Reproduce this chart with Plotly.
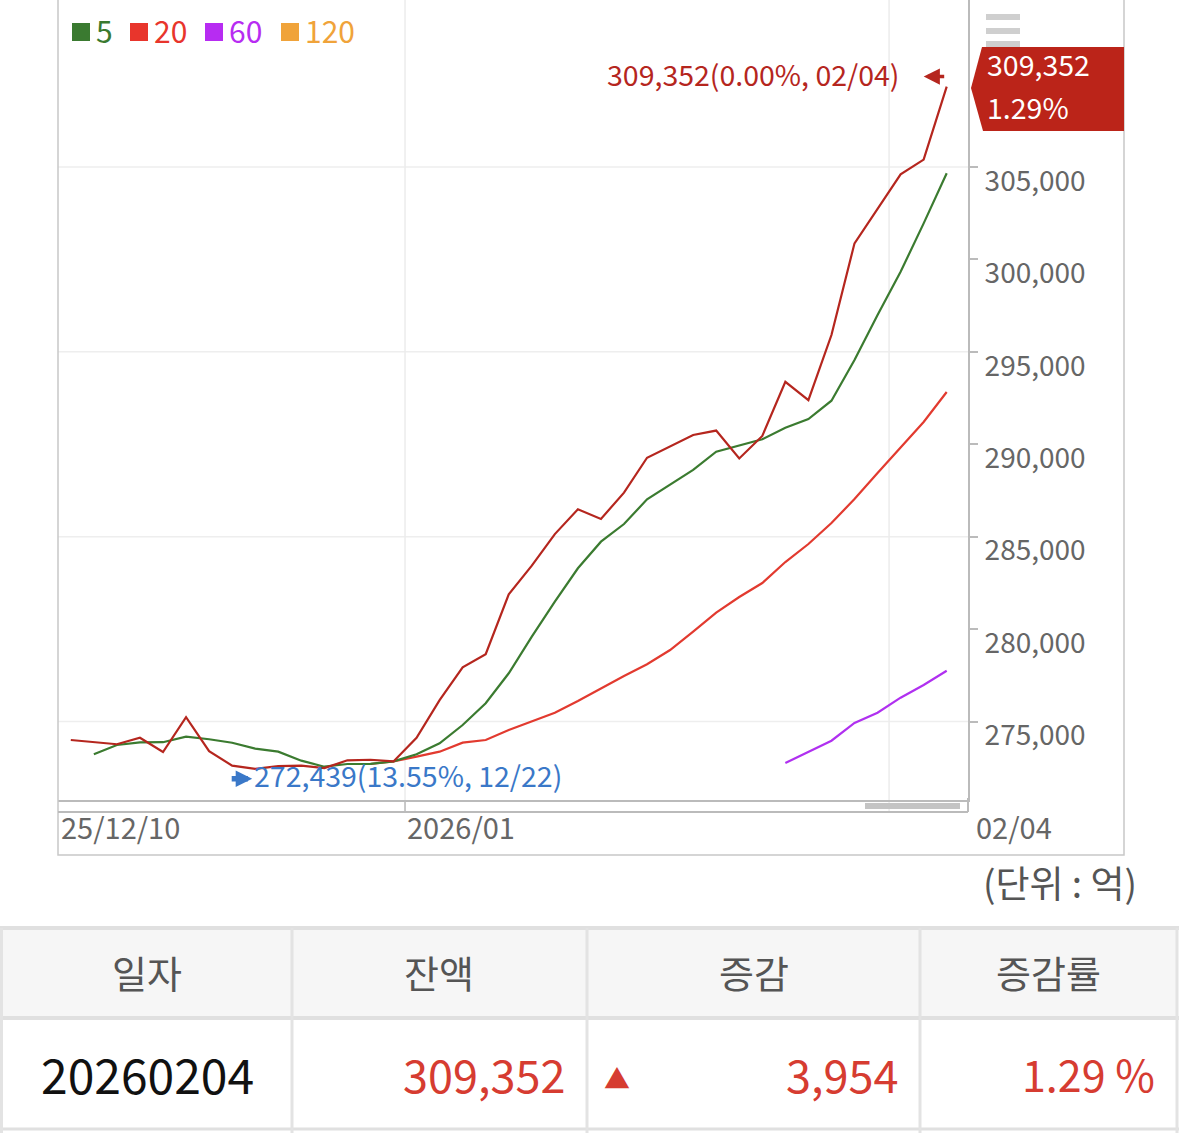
import plotly.graph_objects as go

W, H = 1179, 1133
FONT = "Noto Sans CJK KR"

# trading days shown on the chart
dates = [
    "2025-12-10", "2025-12-11", "2025-12-12", "2025-12-15", "2025-12-16",
    "2025-12-17", "2025-12-18", "2025-12-19", "2025-12-22", "2025-12-23",
    "2025-12-24", "2025-12-26", "2025-12-29", "2025-12-30", "2025-12-31",
    "2026-01-02", "2026-01-05", "2026-01-06", "2026-01-07", "2026-01-08",
    "2026-01-09", "2026-01-12", "2026-01-13", "2026-01-14", "2026-01-15",
    "2026-01-16", "2026-01-19", "2026-01-20", "2026-01-21", "2026-01-22",
    "2026-01-23", "2026-01-26", "2026-01-27", "2026-01-28", "2026-01-29",
    "2026-01-30", "2026-02-02", "2026-02-03", "2026-02-04",
]

# balance (unit: 억)
balance = [
    274000, 273875, 273770, 274120, 273350, 275230, 273400, 272610, 272439, 272590,
    272610, 272480, 272900, 272930, 272840, 274120, 276160, 277930, 278640, 281880,
    283430, 285140, 286480, 285960, 287380, 289270, 289900, 290500, 290740, 289230,
    290450, 293380, 292390, 295910, 300870, 302710, 304600, 305398, 309352,
]

ma5 = [None] + [
    273230, 273730, 273875, 273880, 274180, 274040, 273850, 273530, 273370,
    272880, 272555, 272700, 272710, 272840, 273230, 273820, 274810, 275985, 277610,
    279590, 281480, 283290, 284730, 285685, 287020, 287830, 288610, 289600, 289930,
    290270, 290895, 291365, 292355, 294560, 296990, 299330, 301950, 304660,
]

ma20 = [None] * 13 + [
    272700, 272836, 273096, 273366, 273853, 274000, 274540, 274990, 275476,
    276110, 276796, 277462, 278095, 278868, 279858, 280886, 281735, 282493, 283629,
    284603, 285739, 287037, 288444, 289850, 291203, 292826,
]

ma60 = [None] * 31 + [
    272755, 273366, 273961, 274919, 275476, 276288, 276975, 277748,
]

legend_labels = ["5", "20", "60", "120"]
legend_colors = ["#3a7a30", "#e8352c", "#b72cf2", "#f0a33a"]

y_ticks = [275000, 280000, 285000, 290000, 295000, 300000, 305000]
grid_vals = [275000, 285000, 295000, 305000]
month_breaks = [14.5, 35.5]

table_header = ["일자", "잔액", "증감", "증감률"]

MAIN = "#b5261e"
C5, C20, C60 = "#3b7b30", "#e23a2f", "#b030f0"
BLUE = "#3a78c8"
TXT = "#666666"
UP = "#d63c31"


def px(x):
    return x / W


def py(y):
    return 1 - y / H


# derived numbers
last = balance[-1]
prev = balance[-2]
change = last - prev
pct = change / prev * 100
low = min(balance)
i_low = balance.index(low)
high = max(balance)
i_high = balance.index(high)
from_low = (last - low) / low * 100
from_high = (last - high) / high * 100


def md(d):
    return d[5:7] + "/" + d[8:10]


# y scale: 305,000 at px 167, 275,000 at px 721.5, plot from px 0 to 800
k = (721.5 - 167) / 30000
y_top = 305000 + 167 / k
y_bot = 275000 - (800 - 721.5) / k
step = 23.05
x_lo = (58 - 70.8) / step
x_hi = (968 - 70.8) / step

fig = go.Figure()
fig.add_trace(go.Scatter(x=dates, y=ma60, mode="lines", line=dict(color=C60, width=2.2)))
fig.add_trace(go.Scatter(x=dates, y=ma20, mode="lines", line=dict(color=C20, width=2.2)))
fig.add_trace(go.Scatter(x=dates, y=ma5, mode="lines", line=dict(color=C5, width=2.2)))
fig.add_trace(go.Scatter(x=dates, y=balance, mode="lines", line=dict(color=MAIN, width=2.2)))

shapes = []
ann = []

# horizontal grid lines
for g in grid_vals:
    shapes.append(dict(type="line", xref="paper", yref="y", x0=px(58), x1=px(968), y0=g, y1=g,
                       line=dict(color="#eeeeee", width=1.5), layer="below"))
# month boundaries
for m in month_breaks:
    shapes.append(dict(type="line", xref="x", yref="paper", x0=m, x1=m, y0=py(812), y1=1,
                       line=dict(color="#ececec", width=1.5), layer="below"))
shapes.append(dict(type="line", xref="x", yref="paper", x0=month_breaks[0], x1=month_breaks[0],
                   y0=py(812), y1=py(800), line=dict(color="#bbbbbb", width=1.5)))

# outer frame, lower axis line, scroll bar, axis extension
shapes.append(dict(type="rect", xref="paper", yref="paper", x0=px(58), x1=px(1124), y0=py(855), y1=py(-5),
                   line=dict(color="#c8c8c8", width=1.5)))
shapes.append(dict(type="line", xref="paper", yref="paper", x0=px(58), x1=px(968), y0=py(812), y1=py(812),
                   line=dict(color="#bbbbbb", width=2)))
shapes.append(dict(type="line", xref="paper", yref="paper", x0=px(968), x1=px(968), y0=py(812), y1=py(798),
                   line=dict(color="#bbbbbb", width=2)))
shapes.append(dict(type="rect", xref="paper", yref="paper", x0=px(865), x1=px(960), y0=py(809), y1=py(803),
                   fillcolor="#c4c4c4", line=dict(width=0)))

# menu icon
for y0 in (14, 28, 41):
    shapes.append(dict(type="rect", xref="paper", yref="paper", x0=px(986), x1=px(1020),
                       y0=py(y0 + 6), y1=py(y0), fillcolor="#cfcfcf", line=dict(width=0)))

# current value tag
pts = [(982, 47), (1124, 47), (1124, 131), (983, 131), (971, 88)]
path = "M " + " L ".join(f"{px(a):.5f},{py(b):.5f}" for a, b in pts) + " Z"
shapes.append(dict(type="path", xref="paper", yref="paper", path=path,
                   fillcolor="#bb2419", line=dict(width=0)))
ann.append(dict(xref="paper", yref="paper", x=px(985), y=py(64), text=f"{last:,}",
                xanchor="left", yanchor="middle", showarrow=False, font=dict(size=28.5, color="white")))
ann.append(dict(xref="paper", yref="paper", x=px(985), y=py(106), text=f"{pct:.2f}%",
                xanchor="left", yanchor="middle", showarrow=False, font=dict(size=28.5, color="white")))

# legend
lx = [72, 130, 205, 281]
for x0, lab, col in zip(lx, legend_labels, legend_colors):
    shapes.append(dict(type="rect", xref="paper", yref="paper", x0=px(x0), x1=px(x0 + 18),
                       y0=py(41), y1=py(23), fillcolor=col, line=dict(width=0)))
    ann.append(dict(xref="paper", yref="paper", x=px(x0 + 22), y=py(30), text=lab,
                    xanchor="left", yanchor="middle", showarrow=False, font=dict(size=30, color=col)))

# high / low labels
ann.append(dict(xref="x", yref="y", x=dates[i_high], y=high, xshift=-46, yshift=13,
                text=f"{high:,}({from_high:.2f}%, {md(dates[i_high])})", xanchor="right", yanchor="middle",
                showarrow=False, font=dict(size=28.5, color=MAIN)))
ann.append(dict(xref="x", yref="y", x=dates[i_high], y=high, xshift=-23, yshift=10, text="",
                showarrow=True, ax=22, ay=0, arrowhead=2, arrowsize=0.9, arrowwidth=3.6,
                arrowcolor=MAIN, standoff=0))
ann.append(dict(xref="x", yref="y", x=dates[i_low], y=low, xshift=-3, yshift=-10, text="",
                showarrow=True, ax=-22, ay=0, arrowhead=2, arrowsize=0.6, arrowwidth=5.5,
                arrowcolor=BLUE, standoff=0))
ann.append(dict(xref="x", yref="y", x=dates[i_low], y=low, xshift=-3, yshift=-6,
                text=f"{low:,}({from_low:.2f}%, {md(dates[i_low])})", xanchor="left", yanchor="middle",
                showarrow=False, font=dict(size=28.5, color=BLUE)))

# x labels
ann.append(dict(xref="paper", yref="paper", x=px(59), y=py(826), text=dates[0][2:4] + "/" + md(dates[0]),
                xanchor="left", yanchor="middle", showarrow=False, font=dict(size=29, color=TXT)))
ann.append(dict(xref="x", yref="paper", x=month_breaks[0], y=py(826), xshift=0,
                text=dates[15][:4] + "/" + dates[15][5:7],
                xanchor="left", yanchor="middle", showarrow=False, font=dict(size=29, color=TXT)))
ann.append(dict(xref="paper", yref="paper", x=px(974), y=py(826), text=md(dates[-1]),
                xanchor="left", yanchor="middle", showarrow=False, font=dict(size=29, color=TXT)))

ann.append(dict(xref="paper", yref="paper", x=px(1139), y=py(882), text="(단위 : 억)",
                xanchor="right", yanchor="middle", showarrow=False, font=dict(size=37, color="#555555")))

# table
shapes.append(dict(type="rect", xref="paper", yref="paper", x0=px(2), x1=px(1177), y0=py(1016), y1=py(929),
                   fillcolor="#f6f6f6", line=dict(width=0), layer="below"))
for yy, wd in ((928, 4), (1018, 4), (1129, 3)):
    shapes.append(dict(type="line", xref="paper", yref="paper", x0=0, x1=1, y0=py(yy), y1=py(yy),
                       line=dict(color="#e0e0e0", width=wd)))
col_edges = [1.5, 292, 587, 920, 1177]
for xx in col_edges:
    shapes.append(dict(type="line", xref="paper", yref="paper", x0=px(xx), x1=px(xx), y0=0, y1=py(928),
                       line=dict(color="#e3e3e3", width=3)))
for i, h in enumerate(table_header):
    cx = (col_edges[i] + col_edges[i + 1]) / 2
    ann.append(dict(xref="paper", yref="paper", x=px(cx), y=py(971), text=h, xanchor="center",
                    yanchor="middle", showarrow=False, font=dict(size=38, color="#555555")))

row_y = py(1073)
ann.append(dict(xref="paper", yref="paper", x=px(147), y=row_y, text=dates[-1].replace("-", ""),
                xanchor="center", yanchor="middle", showarrow=False, font=dict(size=48, color="#111111")))
ann.append(dict(xref="paper", yref="paper", x=px(567), y=row_y, text=f"{last:,}",
                xanchor="right", yanchor="middle", showarrow=False, font=dict(size=45, color=UP)))
ann.append(dict(xref="paper", yref="paper", x=px(617), y=py(1077), text="▲",
                xanchor="center", yanchor="middle", showarrow=False, font=dict(size=26, color=UP)))
ann.append(dict(xref="paper", yref="paper", x=px(900), y=row_y, text=f"{change:,}",
                xanchor="right", yanchor="middle", showarrow=False, font=dict(size=45, color=UP)))
ann.append(dict(xref="paper", yref="paper", x=px(1157), y=row_y, text=f"{pct:.2f} %",
                xanchor="right", yanchor="middle", showarrow=False, font=dict(size=43, color=UP)))

fig.update_layout(
    width=W, height=H,
    margin=dict(l=0, r=0, t=0, b=0),
    paper_bgcolor="white", plot_bgcolor="white",
    showlegend=False,
    font=dict(family=FONT, color=TXT),
    xaxis=dict(type="category", range=[x_lo, x_hi], domain=[px(58), px(968)],
               showgrid=False, zeroline=False, showticklabels=False, ticks="",
               showline=True, linecolor="#bbbbbb", linewidth=2, fixedrange=True),
    yaxis=dict(side="right", range=[y_bot, y_top], domain=[py(800), 1],
               tickvals=y_ticks, tickformat=",d", showgrid=False, zeroline=False,
               showline=True, linecolor="#bbbbbb", linewidth=2,
               ticks="outside", ticklen=8, tickwidth=1.5, tickcolor="#bbbbbb",
               tickfont=dict(size=28, color=TXT), ticklabelshift=14, ticklabelstandoff=1,
               fixedrange=True),
    shapes=shapes,
    annotations=ann,
)

# page has a default 8px body margin; drop it so the figure sits at the window corner
fig.write_html("out.html", config={"displayModeBar": False},
               post_script="document.body.style.margin='0';")
